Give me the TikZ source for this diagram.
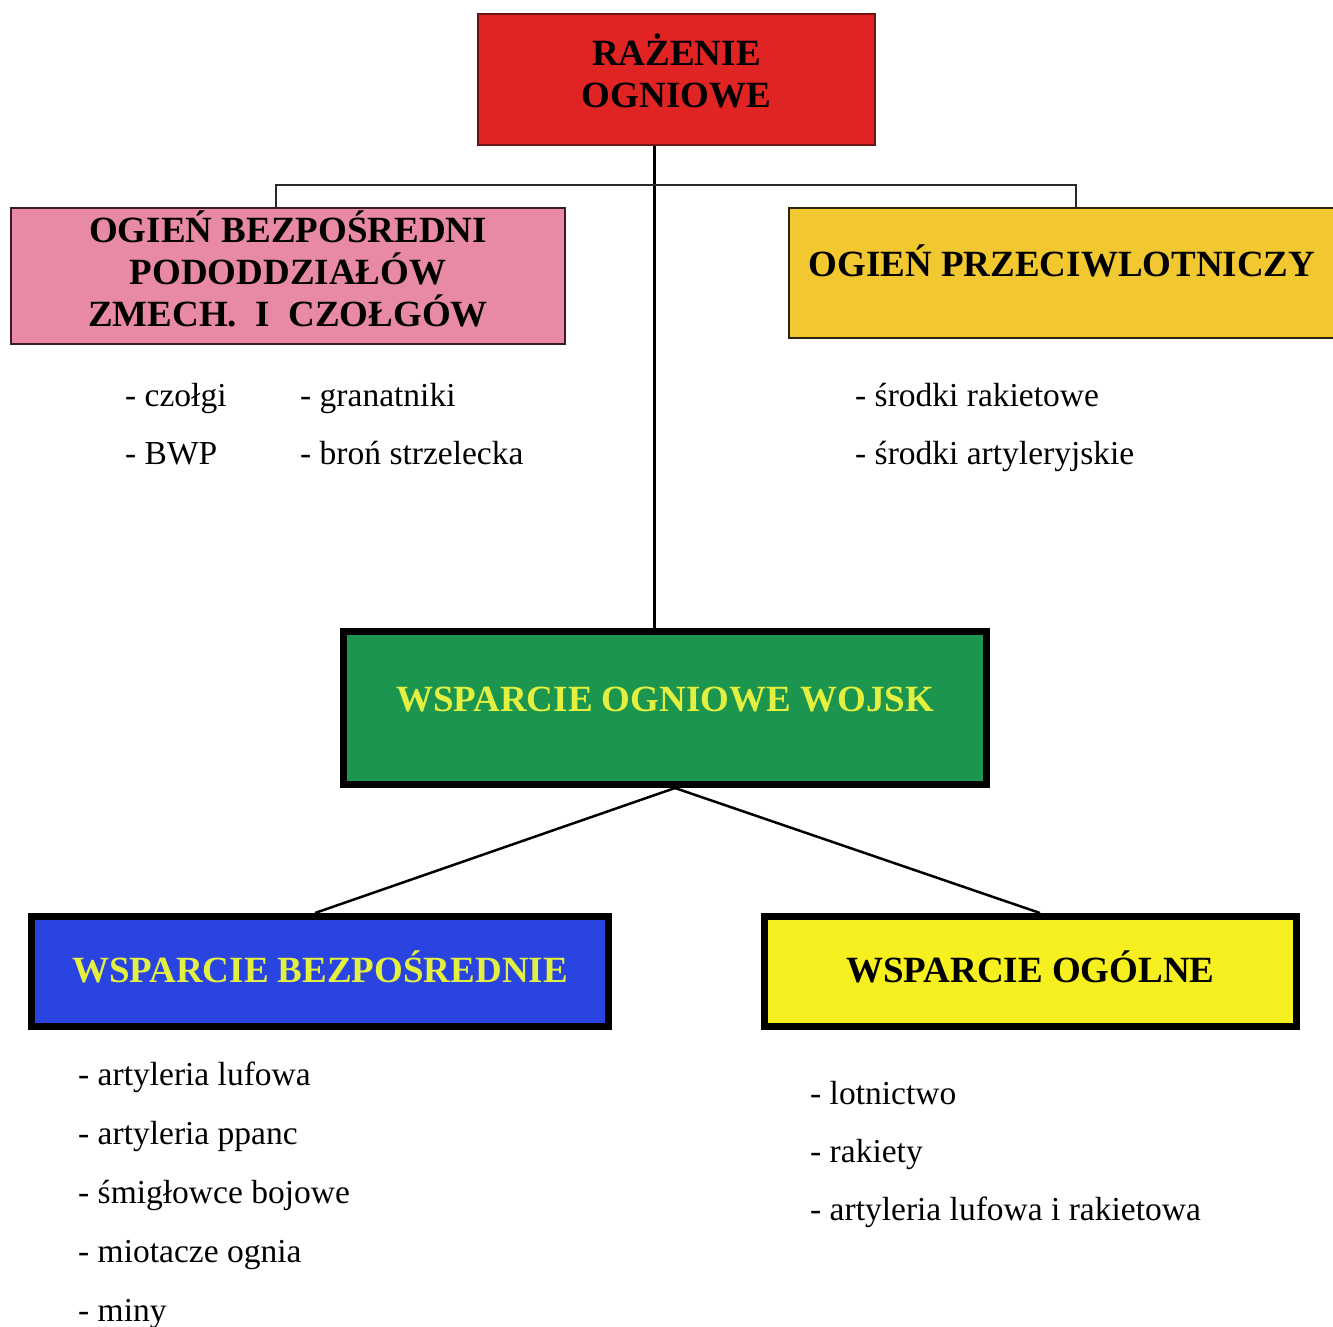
\documentclass[tikz,border=0pt]{standalone}
\usepackage{fontspec}
\setmainfont{Liberation Serif}
\usetikzlibrary{calc}

\definecolor{boxred}{RGB}{224,36,36}
\definecolor{redline}{RGB}{110,20,20}
\definecolor{boxpink}{RGB}{232,138,164}
\definecolor{pinkline}{RGB}{60,25,35}
\definecolor{boxorange}{RGB}{242,200,48}
\definecolor{orangeline}{RGB}{45,35,10}
\definecolor{boxgreen}{RGB}{28,150,78}
\definecolor{boxblue}{RGB}{42,68,226}
\definecolor{boxyellow}{RGB}{246,240,32}
\definecolor{lighttext}{RGB}{228,240,64}
\definecolor{linkgray}{RGB}{40,40,40}

% invisible strut that lowers the bottom of a multi-line label
\newcommand{\lowstrut}[1]{\rule[-#1]{0pt}{0pt}}

\begin{document}
\begin{tikzpicture}[x=1pt,y=-1pt,
  box/.style={rectangle, inner sep=0pt, align=center,
    font=\fontsize{37}{42}\selectfont\bfseries},
  thinbox/.style={box, line width=2pt},
  thickbox/.style={box, draw=black, line width=7pt},
  item/.style={anchor=base west, inner sep=0pt,
    font=\fontsize{33.5}{40}\selectfont},
  trunkline/.style={draw=black, line width=3pt},
  barline/.style={draw=linkgray, line width=1.6pt},
  branchline/.style={draw=black, line width=2.5pt}]

\useasboundingbox (0,0) rectangle (1333,1326);

% main boxes
\node[thinbox, draw=redline, fill=boxred,
      minimum width=397pt, minimum height=131pt] (razenie) at (676.5,79.5)
      {RAŻENIE\\OGNIOWE\lowstrut{17pt}};
\node[thinbox, draw=pinkline, fill=boxpink,
      minimum width=554pt, minimum height=136pt] (bezposredni) at (288,276)
      {OGIEŃ BEZPOŚREDNI\\PODODDZIAŁÓW\\ZMECH.\ \ I\ \ CZOŁGÓW\lowstrut{15pt}};
\node[thinbox, draw=orangeline, fill=boxorange,
      minimum width=546pt, minimum height=130pt,
      text height=20pt, text depth=13.5pt] (plot) at (1062,273)
      {OGIEŃ PRZECIWLOTNICZY};
\node[thickbox, fill=boxgreen, text=lighttext,
      minimum width=643pt, minimum height=153pt,
      text height=20pt, text depth=13.5pt] (wsparcie) at (665,708)
      {WSPARCIE OGNIOWE WOJSK};
\node[thickbox, fill=boxblue, text=lighttext,
      minimum width=577pt, minimum height=110pt,
      text height=25pt, text depth=3.5pt] (wbezp) at (320,971.5)
      {WSPARCIE BEZPOŚREDNIE};
\node[thickbox, fill=boxyellow, text=black,
      minimum width=532pt, minimum height=110pt,
      text height=25pt, text depth=3.5pt] (wogolne) at (1030.5,971.5)
      {WSPARCIE OGÓLNE};

% connectors
\coordinate (trunk) at (654,185);
\coordinate (barL) at (276,185);
\coordinate (barR) at (1076,185);
\draw[trunkline] (razenie.south -| trunk) -- (wsparcie.north -| trunk);
\draw[barline] (bezposredni.north -| barL) -- (barL) -- (barR)
               -- (plot.north -| barR);
\coordinate (fork) at ([xshift=10pt]wsparcie.south);
\draw[branchline] (fork) -- ([xshift=-5pt]wbezp.north);
\draw[branchline] (fork) -- ([xshift=9.5pt]wogolne.north);

% lists
\node[item] (l1) at (125,406) {- czołgi};
\node[item] (l2) at (125,464) {- BWP};
\node[item] (l3) at (300,406) {- granatniki};
\node[item] (l4) at (300,464) {- broń strzelecka};

\node[item] (r1) at (855,406) {- środki rakietowe};
\node[item] (r2) at (855,464) {- środki artyleryjskie};

\node[item] (b1) at (78,1085) {- artyleria lufowa};
\node[item] (b2) at (78,1144) {- artyleria ppanc};
\node[item] (b3) at (78,1203) {- śmigłowce bojowe};
\node[item] (b4) at (78,1262) {- miotacze ognia};
\node[item] (b5) at (78,1321) {- miny};

\node[item] (g1) at (810,1104) {- lotnictwo};
\node[item] (g2) at (810,1162) {- rakiety};
\node[item] (g3) at (810,1220) {- artyleria lufowa i rakietowa};
\end{tikzpicture}
\end{document}
